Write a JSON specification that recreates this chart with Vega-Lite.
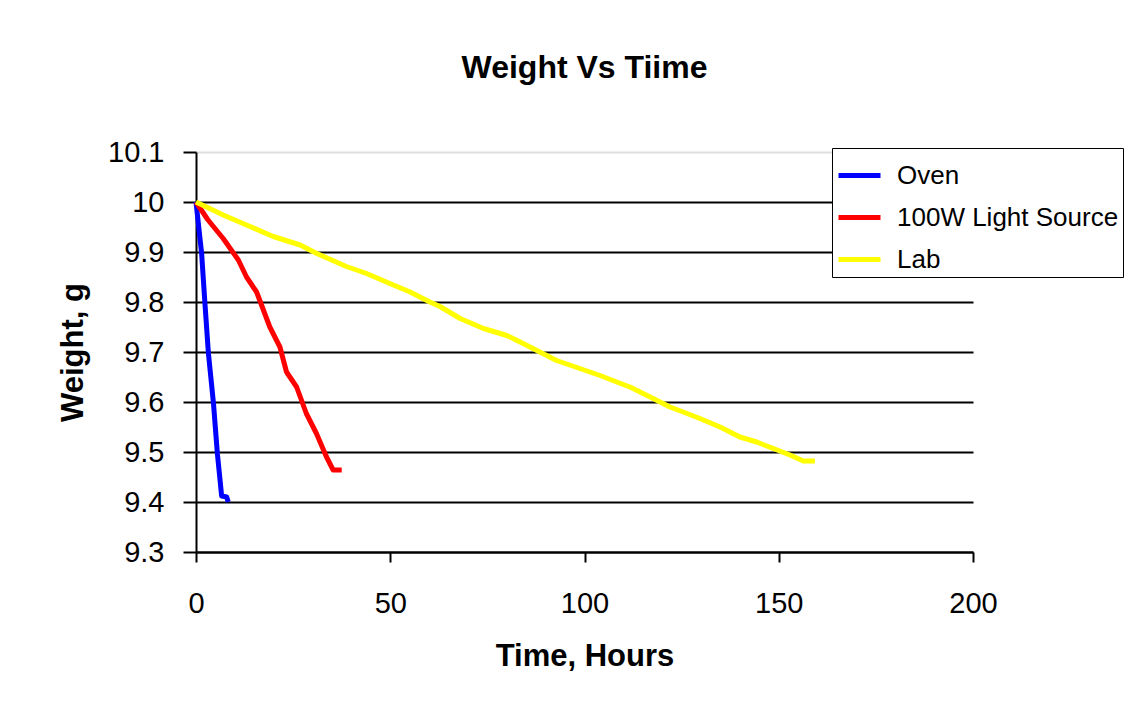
{
  "$schema": "https://vega.github.io/schema/vega-lite/v6.json",
  "autosize": "none",
  "width": 777,
  "height": 400,
  "padding": {"left": 196, "top": 152, "right": 170, "bottom": 157},
  "background": "white",
  "title": {"text": "Weight Vs Tiime", "font": "Liberation Sans", "fontSize": 32, "fontWeight": "bold", "color": "black", "anchor": "middle", "frame": "group", "offset": 53},
  "config": {"view": {"stroke": null}},
  "data": {"values": [
    {"series": "Oven", "t": 0, "w": 10.0},
    {"series": "Oven", "t": 1.45, "w": 9.897},
    {"series": "Oven", "t": 2.3, "w": 9.797},
    {"series": "Oven", "t": 3.2, "w": 9.697},
    {"series": "Oven", "t": 4.5, "w": 9.597},
    {"series": "Oven", "t": 5.5, "w": 9.497},
    {"series": "Oven", "t": 6.6, "w": 9.412},
    {"series": "Oven", "t": 7.9, "w": 9.41},
    {"series": "Oven", "t": 8.3, "w": 9.4},
    {"series": "100W Light Source", "t": 0, "w": 10.0},
    {"series": "100W Light Source", "t": 3, "w": 9.965},
    {"series": "100W Light Source", "t": 7, "w": 9.927},
    {"series": "100W Light Source", "t": 10.9, "w": 9.884},
    {"series": "100W Light Source", "t": 13, "w": 9.85},
    {"series": "100W Light Source", "t": 15.6, "w": 9.82},
    {"series": "100W Light Source", "t": 19, "w": 9.75},
    {"series": "100W Light Source", "t": 21.6, "w": 9.71},
    {"series": "100W Light Source", "t": 23.3, "w": 9.66},
    {"series": "100W Light Source", "t": 25.9, "w": 9.63},
    {"series": "100W Light Source", "t": 28.4, "w": 9.577},
    {"series": "100W Light Source", "t": 31, "w": 9.537},
    {"series": "100W Light Source", "t": 33.6, "w": 9.49},
    {"series": "100W Light Source", "t": 35.3, "w": 9.464},
    {"series": "100W Light Source", "t": 37.5, "w": 9.464},
    {"series": "Lab", "t": 0, "w": 10.0},
    {"series": "Lab", "t": 7, "w": 9.974},
    {"series": "Lab", "t": 13.9, "w": 9.951},
    {"series": "Lab", "t": 19.9, "w": 9.931},
    {"series": "Lab", "t": 26.8, "w": 9.914},
    {"series": "Lab", "t": 31.1, "w": 9.897},
    {"series": "Lab", "t": 38.7, "w": 9.871},
    {"series": "Lab", "t": 43.9, "w": 9.857},
    {"series": "Lab", "t": 49.9, "w": 9.837},
    {"series": "Lab", "t": 55.1, "w": 9.82},
    {"series": "Lab", "t": 60.2, "w": 9.8},
    {"series": "Lab", "t": 62.8, "w": 9.791},
    {"series": "Lab", "t": 68, "w": 9.767},
    {"series": "Lab", "t": 74, "w": 9.747},
    {"series": "Lab", "t": 80, "w": 9.733},
    {"series": "Lab", "t": 84.2, "w": 9.717},
    {"series": "Lab", "t": 88.5, "w": 9.7},
    {"series": "Lab", "t": 92.8, "w": 9.683},
    {"series": "Lab", "t": 98.8, "w": 9.667},
    {"series": "Lab", "t": 104, "w": 9.653},
    {"series": "Lab", "t": 108.3, "w": 9.64},
    {"series": "Lab", "t": 111.7, "w": 9.63},
    {"series": "Lab", "t": 116.9, "w": 9.61},
    {"series": "Lab", "t": 122, "w": 9.59},
    {"series": "Lab", "t": 125.4, "w": 9.58},
    {"series": "Lab", "t": 129.7, "w": 9.567},
    {"series": "Lab", "t": 134.9, "w": 9.55},
    {"series": "Lab", "t": 140, "w": 9.53},
    {"series": "Lab", "t": 144.3, "w": 9.52},
    {"series": "Lab", "t": 148.6, "w": 9.507},
    {"series": "Lab", "t": 152.9, "w": 9.494},
    {"series": "Lab", "t": 156.3, "w": 9.482},
    {"series": "Lab", "t": 159.3, "w": 9.482}
  ]},
  "mark": {"type": "line", "strokeWidth": 5, "strokeJoin": "round"},
  "encoding": {
    "x": {"field": "t", "type": "quantitative",
      "scale": {"domain": [0, 200], "nice": false, "zero": false},
      "axis": {"title": "Time, Hours", "values": [0, 50, 100, 150, 200], "grid": false, "labelFlush": false,
        "domainColor": "black", "domainWidth": 2, "tickColor": "black", "tickWidth": 2, "tickSize": 10,
        "labelFont": "Liberation Sans", "labelFontSize": 29, "labelColor": "black", "labelPadding": 27,
        "titleFont": "Liberation Sans", "titleFontSize": 31, "titleFontWeight": "bold", "titleColor": "black", "titlePadding": 23}},
    "y": {"field": "w", "type": "quantitative",
      "scale": {"domain": [9.3, 10.1], "nice": false, "zero": false},
      "axis": {"title": "Weight, g", "values": [9.3, 9.4, 9.5, 9.6, 9.7, 9.8, 9.9, 10, 10.1], "format": ".1~f", "labelFlush": false,
        "grid": true, "gridColor": {"condition": {"test": "datum.value >= 10.05", "value": "#dddddd"}, "value": "black"}, "gridWidth": 2,
        "domainColor": "black", "domainWidth": 2, "tickColor": "black", "tickWidth": 2, "tickSize": 13,
        "labelFont": "Liberation Sans", "labelFontSize": 29, "labelColor": "black", "labelPadding": 19,
        "titleFont": "Liberation Sans", "titleFontSize": 31, "titleFontWeight": "bold", "titleColor": "black", "titlePadding": 18}},
    "color": {"field": "series", "type": "nominal",
      "scale": {"domain": ["Oven", "100W Light Source", "Lab"], "range": ["#0000FF", "#FF0000", "#FFFF00"]},
      "legend": {"title": null, "orient": "none", "legendX": 636, "legendY": -4,
        "strokeColor": "black", "padding": 4, "fillColor": "white",
        "symbolType": "stroke", "symbolSize": 1764, "symbolStrokeWidth": 5,
        "labelFont": "Liberation Sans", "labelFontSize": 26, "labelColor": "black", "labelOffset": 14,
        "rowPadding": 5, "labelLimit": 400}}
  }
}
